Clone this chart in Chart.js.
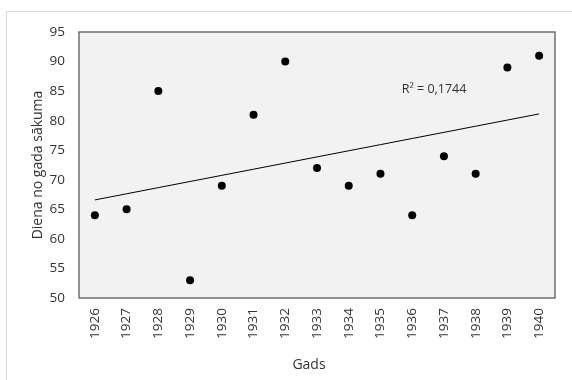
<!DOCTYPE html>
<html>
<head>
<meta charset="utf-8">
<script src="https://cdn.jsdelivr.net/npm/chart.js@4"></script>
<style>
  html, body { margin: 0; padding: 0; background: #ffffff; }
  #wrap { width: 572px; height: 380px; position: relative; }
</style>
</head>
<body>
<div id="wrap"><canvas id="chart" width="572" height="380"></canvas></div>
<script>
// Ice break-up day (day of year) by year
const years = ['1926','1927','1928','1929','1930','1931','1932','1933','1934','1935','1936','1937','1938','1939','1940'];
const dayOfYear = [64, 65, 85, 53, 69, 81, 90, 72, 69, 71, 64, 74, 71, 89, 91];
const yTicks = [50, 55, 60, 65, 70, 75, 80, 85, 90, 95];
const xTitle = 'Gads';
const yTitle = 'Diena no gada sākuma';

// Least-squares linear trend over the series index
function linearFit(values) {
  const n = values.length;
  const xs = values.map((_, i) => i);
  const mx = xs.reduce((a, b) => a + b, 0) / n;
  const my = values.reduce((a, b) => a + b, 0) / n;
  let sxy = 0, sxx = 0, syy = 0;
  for (let i = 0; i < n; i++) {
    sxy += (xs[i] - mx) * (values[i] - my);
    sxx += (xs[i] - mx) ** 2;
    syy += (values[i] - my) ** 2;
  }
  const slope = sxy / sxx;
  const intercept = my - slope * mx;
  return { slope, intercept, r2: (sxy * sxy) / (sxx * syy) };
}
const fit = linearFit(dayOfYear);
const trend = dayOfYear.map((_, i) => fit.intercept + fit.slope * i);
const r2Label = 'R² = ' + fit.r2.toFixed(4).replace('.', ',');

const FONT = "'Open Sans', 'Noto Sans', sans-serif";
const TEXT = '#333333';

const plotFrame = {
  id: 'plotFrame',
  beforeDraw(chart) {
    const { ctx, chartArea: a } = chart;
    ctx.save();
    // outer chart border
    ctx.strokeStyle = '#d9d9d9';
    ctx.lineWidth = 1;
    ctx.strokeRect(6.5, 11.5, 700, 500);
    // plot area fill
    ctx.fillStyle = '#f2f2f2';
    ctx.fillRect(a.left, a.top, a.right - a.left, a.bottom - a.top);
    ctx.restore();
  },
  afterDraw(chart) {
    const { ctx, chartArea: a, scales } = chart;
    ctx.save();
    ctx.strokeStyle = '#595959';
    ctx.lineWidth = 1.3;
    ctx.strokeRect(a.left, a.top, a.right - a.left, a.bottom - a.top);
    // R² annotation next to the trend line
    ctx.fillStyle = TEXT;
    ctx.font = "12.5px " + FONT;
    ctx.textAlign = 'center';
    ctx.textBaseline = 'middle';
    const x = (scales.x.getPixelForValue(10) + scales.x.getPixelForValue(11)) / 2 + 6;
    const y = scales.y.getPixelForValue(85.2);
    ctx.fillText(r2Label, x, y);
    // horizontal axis title
    ctx.font = "14px " + FONT;
    ctx.fillText(xTitle, (a.left + a.right) / 2 - 8, 365);
    ctx.restore();
  }
};

new Chart(document.getElementById('chart'), {
  type: 'line',
  data: {
    labels: years,
    datasets: [
      {
        label: 'Diena',
        data: dayOfYear,
        showLine: false,
        pointRadius: 4,
        pointHoverRadius: 4,
        pointBackgroundColor: '#000000',
        pointBorderColor: '#000000',
        pointBorderWidth: 0,
        order: 1
      },
      {
        label: 'Trend',
        data: trend,
        borderColor: '#000000',
        borderWidth: 1,
        pointRadius: 0,
        fill: false,
        tension: 0,
        order: 2
      }
    ]
  },
  options: {
    responsive: false,
    animation: false,
    events: [],
    layout: { padding: { top: 32, right: 17, bottom: 0, left: 0 } },
    plugins: {
      legend: { display: false },
      tooltip: { enabled: false }
    },
    scales: {
      x: {
        type: 'category',
        offset: true,
        grid: { display: false, drawTicks: false },
        border: { display: false },
        ticks: {
          color: TEXT,
          font: { family: FONT, size: 13.5 },
          minRotation: 90,
          maxRotation: 90,
          padding: 10,
          autoSkip: false
        },
        title: { display: false },
        afterFit(scale) { scale.height = 82; }
      },
      y: {
        min: 50,
        max: 95,
        grid: { display: false, drawTicks: false },
        border: { display: false },
        afterBuildTicks(scale) { scale.ticks = yTicks.map(v => ({ value: v })); },
        ticks: {
          color: TEXT,
          font: { family: FONT, size: 13.5 },
          padding: 14
        },
        title: {
          display: true,
          text: yTitle,
          color: TEXT,
          font: { family: FONT, size: 14 },
          padding: { top: 30, bottom: 0 }
        },
        afterFit(scale) { scale.width = 79; }
      }
    }
  },
  plugins: [plotFrame]
});
</script>
</body>
</html>
